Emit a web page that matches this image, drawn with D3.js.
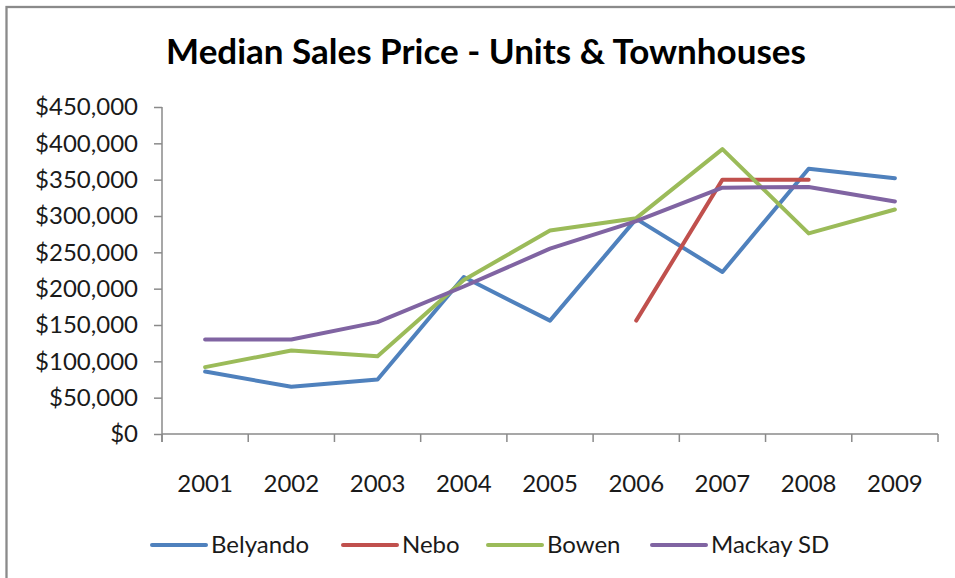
<!DOCTYPE html>
<html>
<head>
<meta charset="utf-8">
<script src="https://cdn.jsdelivr.net/npm/d3@7"></script>
<style>
  body { margin: 0; background: #fff; }
  text { font-family: Lato, "Open Sans", sans-serif; fill: #1a1a1a; }
</style>
</head>
<body>
<div id="graphic"></div>
<script>
var years = ["2001", "2002", "2003", "2004", "2005", "2006", "2007", "2008", "2009"];
var belyando = [86000, 65000, 75000, 216000, 156000, 296000, 223000, 365000, 352000];
var nebo = [null, null, null, null, null, 156000, 350000, 350000, null];
var bowen = [92000, 115000, 107000, 212000, 280000, 297000, 392000, 276000, 309000];
var mackay = [130000, 130000, 154000, 203000, 255000, 293000, 339000, 340000, 320000];
var yTicks = [0, 50000, 100000, 150000, 200000, 250000, 300000, 350000, 400000, 450000];

var series = [
    { name: "Belyando", values: belyando, color: "#4f81bd" },
    { name: "Nebo", values: nebo, color: "#c0504d" },
    { name: "Bowen", values: bowen, color: "#9bbb59" },
    { name: "Mackay SD", values: mackay, color: "#8064a2" }
];

var width = 955, height = 578;
var plotLeft = 162, plotRight = 938, plotTop = 107, plotBottom = 434;

var svg = d3.select("#graphic")
    .append("svg")
    .attr("width", width)
    .attr("height", height);

// outer chart border (runs off the right and bottom of the picture)
svg.append("rect")
    .attr("x", 6.5)
    .attr("y", 7)
    .attr("width", 1000)
    .attr("height", 1000)
    .attr("fill", "none")
    .attr("stroke", "#8a8a8a")
    .attr("stroke-width", 2.3);

svg.append("text")
    .attr("x", 486)
    .attr("y", 64)
    .attr("text-anchor", "middle")
    .style("font-size", "35px")
    .style("font-weight", "bold")
    .style("fill", "#000")
    .text("Median Sales Price - Units & Townhouses");

var x = d3.scaleBand().domain(years).range([plotLeft, plotRight]);
var y = d3.scaleLinear().domain([0, 450000]).range([plotBottom, plotTop]);

var fmt = d3.format("$,");

// y axis
var yAxis = svg.append("g")
    .attr("transform", "translate(" + plotLeft + ",0)")
    .call(d3.axisLeft(y).tickValues(yTicks).tickSize(8).tickPadding(16).tickFormat(function(d) { return fmt(d); }));
yAxis.select(".domain").attr("d", "M0," + plotTop + "V" + (plotBottom + 8));

// x axis
var xAxis = svg.append("g")
    .attr("transform", "translate(0," + plotBottom + ")")
    .call(d3.axisBottom(x).tickSize(0).tickPadding(41));
xAxis.select(".domain").attr("d", "M" + plotLeft + ",0H" + plotRight);
xAxis.selectAll(".bound")
    .data(d3.range(years.length + 1))
    .enter().append("line")
    .attr("class", "bound")
    .attr("x1", function(i) { return plotLeft + i * x.bandwidth(); })
    .attr("x2", function(i) { return plotLeft + i * x.bandwidth(); })
    .attr("y1", 0)
    .attr("y2", 8);

svg.selectAll(".domain, .tick line, .bound")
    .attr("stroke", "#8a8a8a")
    .attr("stroke-width", 1.5);
svg.selectAll(".tick text")
    .style("font-size", "24px")
    .attr("fill", "#1a1a1a");

var line = d3.line()
    .defined(function(d) { return d != null; })
    .x(function(d, i) { return x(years[i]) + x.bandwidth() / 2; })
    .y(function(d) { return y(d); });

svg.selectAll(".series")
    .data(series)
    .enter().append("path")
    .attr("class", "series")
    .attr("d", function(d) { return line(d.values); })
    .attr("fill", "none")
    .attr("stroke", function(d) { return d.color; })
    .attr("stroke-width", 4)
    .attr("stroke-linejoin", "round")
    .attr("stroke-linecap", "round");

// legend
var legendX = [152, 343, 488, 652];
var legend = svg.selectAll(".legend")
    .data(series)
    .enter().append("g")
    .attr("class", "legend")
    .attr("transform", function(d, i) { return "translate(" + legendX[i] + ",545)"; });

legend.append("line")
    .attr("x1", 0)
    .attr("x2", 54)
    .attr("stroke", function(d) { return d.color; })
    .attr("stroke-width", 4)
    .attr("stroke-linecap", "round");

legend.append("text")
    .attr("x", 59)
    .attr("dy", "0.35em")
    .style("font-size", "24px")
    .text(function(d) { return d.name; });
</script>
</body>
</html>
